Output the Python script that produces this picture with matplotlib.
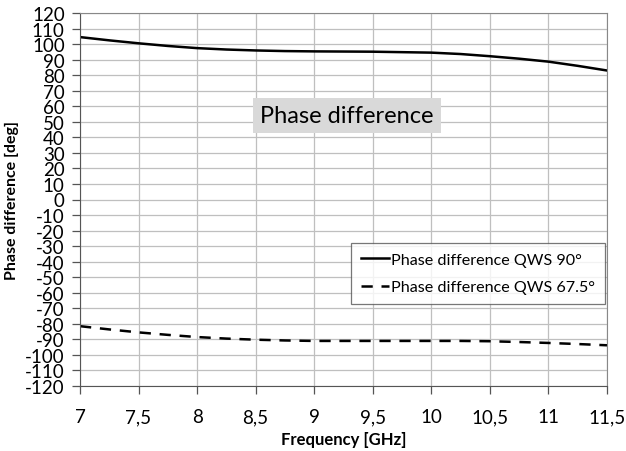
import matplotlib.pyplot as plt

plt.rcParams['font.family'] = ['Lato', 'DejaVu Sans']
plt.rcParams['axes.unicode_minus'] = False

freq = [7.0, 7.25, 7.5, 7.75, 8.0, 8.25, 8.5, 8.75, 9.0, 9.5, 10.0, 10.25,
        10.5, 10.75, 11.0, 11.25, 11.5]
qws90 = [104.5, 102.4, 100.5, 98.8, 97.4, 96.5, 95.9, 95.5, 95.3, 95.1, 94.5,
         93.6, 92.2, 90.6, 88.7, 86.0, 83.0]
qws675 = [-81.5, -83.6, -85.5, -87.1, -88.5, -89.5, -90.2, -90.7, -91.0, -91.0,
          -91.0, -91.0, -91.2, -91.7, -92.3, -93.0, -93.8]
xticks = [7, 7.5, 8, 8.5, 9, 9.5, 10, 10.5, 11, 11.5]
xticklabels = ['7', '7,5', '8', '8,5', '9', '9,5', '10', '10,5', '11', '11,5']
yticks = list(range(-120, 121, 10))

fig = plt.figure(figsize=(6.26, 4.52), dpi=100)
ax = fig.add_axes([80 / 626, 1 - 387 / 452, 527 / 626, 373 / 452])

ax.plot(freq, qws90, color='black', lw=1.8, label='Phase difference QWS 90°')
ax.plot(freq, qws675, color='black', lw=1.8, ls=(0, (4.5, 3.5)),
        label='Phase difference QWS 67.5°')

ax.set_xlim(7, 11.5)
ax.set_ylim(-120, 120)
ax.set_xticks(xticks)
ax.set_xticklabels(xticklabels)
ax.set_yticks(yticks)
ax.grid(True, color='#bfbfbf', lw=0.9)
ax.set_axisbelow(True)
for side in ['top', 'right']:
    ax.spines[side].set_color('#888888')
for side in ['left', 'bottom']:
    ax.spines[side].set_color('#555555')
ax.tick_params(direction='out', length=6, width=0.9, color='#555555',
               labelsize=13.5, pad=5)
ax.tick_params(axis='x', pad=10)

ax.set_xlabel('Frequency [GHz]', fontsize=12, fontweight='bold', labelpad=4)
ax.set_ylabel('Phase difference [deg]', fontsize=11.5, fontweight='bold', labelpad=4)

ax.text(9.28, 54, 'Phase difference', fontsize=17, ha='center', va='center',
        bbox=dict(facecolor='#d9d9d9', edgecolor='none', pad=5))

leg = ax.legend(loc='upper right', bbox_to_anchor=(0.9965, 0.383), fontsize=11.6,
                frameon=True, fancybox=False, edgecolor='#555555',
                handlelength=1.75, handletextpad=0.15, borderpad=0.6,
                labelspacing=0.8, borderaxespad=0)
leg.get_frame().set_linewidth(0.9)

fig.savefig('out.png', dpi=100)
